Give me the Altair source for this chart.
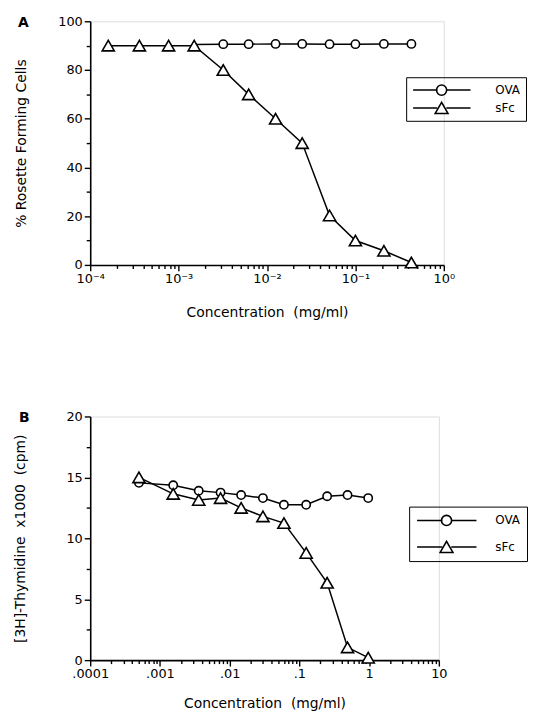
import altair as alt
import pandas as pd

FONT = "DejaVu Sans"

# ---------------- data ----------------
SERIES = ["OVA", "sFc"]

# Panel A: % rosette forming cells
A_SFC_CONC = [1.6e-4, 3.6e-4, 7.7e-4, 1.5e-3, 3.2e-3, 6.2e-3, 1.25e-2, 2.5e-2, 5.1e-2, 0.10, 0.21, 0.43]
A_SFC = [90, 90, 90, 90, 80, 70, 60, 50, 20.3, 10, 5.8, 1.0]
A_OVA_CONC = [1.5e-3, 3.2e-3, 6.2e-3, 1.25e-2, 2.5e-2, 5.1e-2, 0.10, 0.21, 0.43]
A_OVA = [90.5, 90.6, 90.6, 90.7, 90.7, 90.6, 90.6, 90.7, 90.7]

# Panel B: [3H]-thymidine x1000 (cpm)
B_CONC = [5.0e-4, 1.55e-3, 3.6e-3, 7.4e-3, 1.46e-2, 3.0e-2, 6.0e-2, 0.125, 0.25, 0.49, 0.97]
B_OVA = [14.55, 14.35, 13.9, 13.75, 13.55, 13.3, 12.75, 12.75, 13.45, 13.55, 13.3]
B_SFC = [15.0, 13.65, 13.15, 13.3, 12.5, 11.8, 11.25, 8.8, 6.35, 1.05, 0.2]

PANEL_LABELS = ["A", "B"]

A_X_DECADES = [-4, -3, -2, -1, 0]
B_X_DECADES = [-4, -3, -2, -1, 0, 1]
MINOR_MULT = [1, 2, 3, 4, 5, 6, 7, 8, 9]
A_Y_TICKS = [0, 10, 20, 30, 40, 50, 60, 70, 80, 90, 100]
B_Y_TICKS = [0, 2.5, 5, 7.5, 10, 12.5, 15, 17.5, 20]
B_X_LABELS = [".0001", ".001", ".01", ".1", "1", "10"]

SHAPES = ["circle", "triangle-up"]
DATA_SIZES = [70, 150]
LEGEND_SIZES = [105, 165]


def log_ticks(decades):
    vals = []
    for d in decades[:-1]:
        for m in MINOR_MULT:
            vals.append(m * 10.0 ** d)
    vals.append(10.0 ** decades[-1])
    return vals


def frame(conc_ova, ova, conc_sfc, sfc):
    rows = [{"conc": c, "value": v, "series": "OVA"} for c, v in zip(conc_ova, ova)]
    rows += [{"conc": c, "value": v, "series": "sFc"} for c, v in zip(conc_sfc, sfc)]
    return pd.DataFrame(rows)


dfA = frame(A_OVA_CONC, A_OVA, A_SFC_CONC, A_SFC)
dfB = frame(B_CONC, B_OVA, B_CONC, B_SFC)

MAJOR_TEST = "abs(log(datum.value)/LN10 - round(log(datum.value)/LN10)) < 0.001"
LOG10 = "round(log(datum.value)/LN10)"
A_X_LABEL_EXPR = (
    f"{MAJOR_TEST} ? '10' + ({LOG10} < 0 ? '\u207b' : '') + "
    f"['\u2070','\u00b9','\u00b2','\u00b3','\u2074'][abs({LOG10})] : ''"
)
B_X_LABEL_EXPR = f"{MAJOR_TEST} ? {B_X_LABELS!r}[{LOG10} + 4] : ''"

AXIS_COMMON = dict(
    domainColor="black", domainWidth=1.6, tickColor="black", tickWidth=1.4,
    labelColor="black", labelFont=FONT, labelFontSize=13, titleFont=FONT,
    titleFontSize=14, titleFontWeight="normal", titleColor="black",
    grid=False, labelOverlap=False, labelFlush=False, labelBound=False,
)

CLIP_H = 14
KEY_GAP = 4.5  # half gap in the legend line around the marker


def panel(df, letter, point_filter, xdom, xvals, xlabel_expr, ydom, yvals, ymajor, ytitle,
          ytp, xlp, xtp, width, sym_len, leg_x, leg_y, label_off, row_pad, leg_pad,
          letter_x, letter_y):
    x = alt.X(
        "conc:Q",
        scale=alt.Scale(type="log", domain=xdom, nice=False),
        axis=alt.Axis(
            values=xvals, labelExpr=xlabel_expr, title="Concentration\u00a0\u00a0(mg/ml)",
            tickSize={"condition": {"test": MAJOR_TEST, "value": 6}, "value": 3.5},
            labelPadding=xlp, titlePadding=xtp, **AXIS_COMMON,
        ),
    )
    y = alt.Y(
        "value:Q",
        scale=alt.Scale(domain=ydom, nice=False, zero=False),
        axis=alt.Axis(
            values=yvals, labelExpr=f"datum.value % {ymajor} == 0 ? datum.label : ''",
            tickSize={"condition": {"test": f"datum.value % {ymajor} == 0", "value": 6}, "value": 4},
            title=ytitle, labelPadding=2, titlePadding=ytp, **AXIS_COMMON,
        ),
    )
    half = sym_len / 2.0
    base = alt.Chart(df)
    lines = base.mark_line(strokeWidth=1.5).encode(
        x=x, y=y, order="conc:Q",
        color=alt.Color(
            "series:N",
            scale=alt.Scale(domain=SERIES, range=["black", "black"]),
            legend=alt.Legend(
                orient="none", legendX=leg_x, legendY=leg_y, title=None, padding=leg_pad,
                clipHeight=CLIP_H, rowPadding=row_pad, labelFont=FONT, labelFontSize=12,
                labelColor="black", labelOffset=label_off,
                strokeColor="black", symbolType="stroke", symbolSize=sym_len * sym_len,
                symbolStrokeWidth=1.5, symbolStrokeColor="black",
                symbolDash=[half - KEY_GAP, 2 * KEY_GAP, 200],
            ),
        ),
    )
    pts = base.transform_filter(point_filter).mark_point(
        filled=True, fill="white", stroke="black", strokeWidth=1.6, opacity=1
    ).encode(
        x=x, y=y,
        shape=alt.Shape("series:N", scale=alt.Scale(domain=SERIES, range=SHAPES), legend=None),
        size=alt.Size("series:N", scale=alt.Scale(domain=SERIES, range=DATA_SIZES), legend=None),
    )
    # legend markers, centred in the gap of the legend's line symbols
    key_df = pd.DataFrame({"series": SERIES, "shape": SHAPES, "size": LEGEND_SIZES})
    cx = leg_x + leg_pad + (sym_len + 1.5) / 2
    keys = []
    for i, s in enumerate(SERIES):
        cy = leg_y + leg_pad + CLIP_H / 2 + i * (CLIP_H + row_pad)
        keys.append(
            alt.Chart(key_df).transform_filter(f"datum.series == '{s}'").mark_point(
                filled=True, fill="white", stroke="black", strokeWidth=1.6, opacity=1
            ).encode(
                x=alt.value(cx), y=alt.value(cy),
                shape=alt.Shape("shape:N", scale=None),
                size=alt.Size("size:Q", scale=None),
            )
        )
    letter_df = pd.DataFrame({"label": [letter]})
    txt = alt.Chart(letter_df).mark_text(
        font=FONT, fontSize=14, fontWeight="bold", align="left", baseline="middle", color="black"
    ).encode(text="label:N", x=alt.value(letter_x), y=alt.value(letter_y))
    return alt.layer(lines, pts, *keys, txt).resolve_scale(
        shape="independent", size="independent"
    ).properties(width=width, height=246)


chartA = panel(
    dfA, PANEL_LABELS[0], "datum.series != 'OVA' || datum.conc > 0.0016",
    [1e-4, 1], log_ticks(A_X_DECADES), A_X_LABEL_EXPR,
    [0, 100], A_Y_TICKS, 20, "% Rosette Forming Cells", 30, 2, 20, 357,
    58, 319, 56.5, 24, 4, 6, -73, 2,
)
chartB = panel(
    dfB, PANEL_LABELS[1], "true",
    [1e-4, 10], log_ticks(B_X_DECADES), B_X_LABEL_EXPR,
    [0, 20], B_Y_TICKS, 5, "[3H]-Thymidine\u00a0\u00a0x1000\u00a0\u00a0(cpm)", 38.3, 2, 16, 352,
    60, 322, 91, 18, 12.7, 7, -72, 2,
)

chart = alt.concat(chartA, chartB, columns=1, align="none", spacing=90).resolve_scale(
    shape="independent", size="independent", color="independent"
).resolve_legend(color="independent").properties(
    padding={"left": 5, "top": 3, "right": 0, "bottom": 0}
).configure_view(strokeWidth=0).configure(background="white")

chart.save("out.html", embed_options={"renderer": "svg", "actions": False})
